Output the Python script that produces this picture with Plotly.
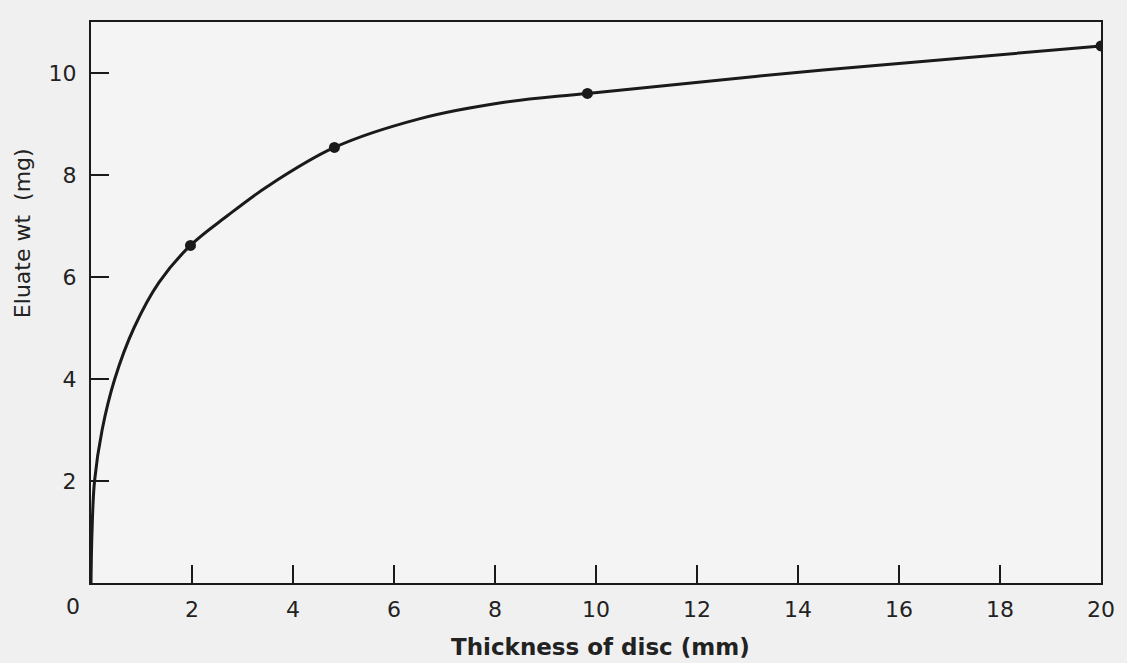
import plotly.graph_objects as go

# Measured points (dots)
point_x = [1.97, 4.82, 9.83, 20.0]
point_y = [6.62, 8.54, 9.60, 10.53]

# Smooth curve
curve_x = [0.0, 0.02, 0.07, 0.22, 0.47, 0.85, 1.35, 1.97, 2.7, 3.5, 4.82,
           6.5, 8.15, 9.83, 14.5, 20.0]
curve_y = [0.0, 1.0, 2.0, 3.0, 4.0, 5.0, 5.9, 6.62, 7.2, 7.78, 8.54,
           9.1, 9.42, 9.60, 10.06, 10.53]

x_ticks = [2, 4, 6, 8, 10, 12, 14, 16, 18, 20]
y_ticks = [2, 4, 6, 8, 10]

x_title = "Thickness of disc (mm)"
y_title = "Eluate wt  (mg)"

ink = "#1a1a1a"
font_family = "DejaVu Sans"

fig = go.Figure()
fig.add_trace(go.Scatter(x=curve_x, y=curve_y, mode="lines",
                         line=dict(color=ink, width=3, shape="spline", smoothing=1.0),
                         hoverinfo="skip", showlegend=False))
fig.add_trace(go.Scatter(x=point_x, y=point_y, mode="markers",
                         marker=dict(color=ink, size=11), showlegend=False))

pw = 1127 - 91 - 24
ph = 663 - 22 - 80

fig.update_layout(
    width=1127, height=663,
    margin=dict(l=91, r=24, t=22, b=80),
    paper_bgcolor="#f0f0f0",
    plot_bgcolor="#f4f4f4",
    font=dict(family=font_family, color="#222222", size=22),
    xaxis=dict(range=[0, 20], tickvals=x_ticks, ticktext=[str(v) for v in x_ticks],
               ticks="inside", ticklen=18, tickwidth=1.5, tickcolor=ink,
               showline=True, linecolor=ink, linewidth=2, mirror=True,
               showgrid=False, zeroline=False, ticklabelstandoff=6,
               tickfont=dict(size=22)),
    yaxis=dict(range=[0, 11], tickvals=y_ticks, ticktext=[str(v) for v in y_ticks],
               ticks="inside", ticklen=18, tickwidth=1.5, tickcolor=ink,
               showline=True, linecolor=ink, linewidth=2, mirror=True,
               showgrid=False, zeroline=False, ticklabelstandoff=8,
               tickfont=dict(size=22)),
    annotations=[
        dict(text="0", x=(73 - 91) / pw, y=(583 - 606) / ph, xref="paper", yref="paper",
             showarrow=False, xanchor="center", yanchor="middle", font=dict(size=22)),
        dict(text="<b>" + x_title + "</b>", x=(602 - 91) / pw, y=(583 - 647) / ph,
             xref="paper", yref="paper",
             showarrow=False, font=dict(size=23), xanchor="center", yanchor="middle"),
        dict(text=y_title, textangle=-90, x=(22 - 91) / pw, y=(583 - 233) / ph,
             xref="paper", yref="paper",
             showarrow=False, font=dict(size=22), xanchor="center", yanchor="middle"),
    ],
)

fig.write_html("out.html")
